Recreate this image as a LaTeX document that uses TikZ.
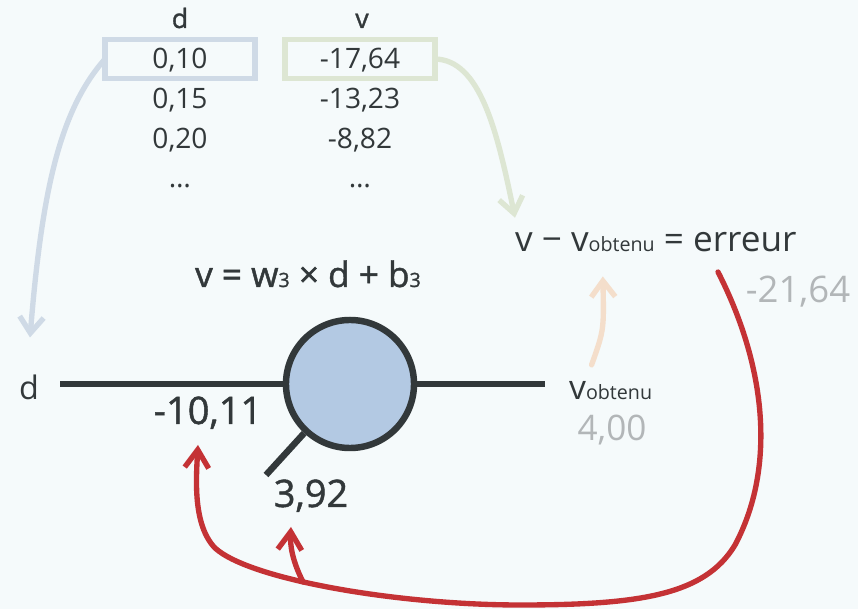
\documentclass[tikz,border=0pt]{standalone}
\usepackage{fontspec}
\setmainfont{Open Sans}
\usetikzlibrary{arrows.meta, positioning}
\definecolor{bgpaper}{RGB}{245,250,251}
\definecolor{inkdark}{RGB}{50,56,58}
\definecolor{inkgrey}{RGB}{178,182,184}
\definecolor{neuronblue}{RGB}{179,201,227}
\definecolor{boxblue}{RGB}{207,218,230}
\definecolor{boxgreen}{RGB}{221,230,211}
\definecolor{peach}{RGB}{244,222,203}
\definecolor{errred}{RGB}{196,50,53}
\newcommand{\fsz}[1]{\fontsize{#1}{#1}\selectfont}
\newcommand{\semi}{\addfontfeature{FakeBold=1.2}}
\tikzset{
  colhead/.style={anchor=base, inner sep=2pt, text=inkdark, font=\fsz{19pt}\semi},
  cell/.style={minimum width=3.75cm, minimum height=0.99cm, inner sep=0pt, outer sep=0pt,
    text height=14pt, text depth=0pt, line width=3.8pt, text=inkdark, font=\fsz{20pt}},
  neuron/.style={circle, draw=inkdark, fill=neuronblue, line width=4.6pt, minimum size=3.2cm},
  wire/.style={draw=inkdark, line width=4.6pt},
  lbl/.style={inner sep=2pt, text=inkdark, font=\fsz{24pt}},
  weight/.style={anchor=base, inner sep=2pt, text=inkdark, font=\fsz{27pt}\semi},
  gval/.style={anchor=base, inner sep=2pt, text=inkgrey, font=\fsz{25pt}},
  feedd/.style={draw=boxblue, line width=3.8pt, line cap=round, -{Straight Barb[length=4mm, width=6mm]}},
  feedv/.style={feedd, draw=boxgreen},
  feedout/.style={feedd, draw=peach},
  errback/.style={draw=errred, line width=3.8pt, line cap=round, -{Straight Barb[length=4.5mm, width=6mm]}}
}
\begin{document}
\begin{tikzpicture}[x=0.025cm, y=-0.025cm]
  % paper
  \fill[bgpaper] (0,0) rectangle (858,609);

  % samples d / v
  \node[colhead] (hd) at (180,28) {d};
  \node[colhead] (hv) at (362,28) {v};
  \node[cell, draw=boxblue] (d1) at (180,59) {0,10};
  \node[cell, below=0pt of d1] (d2) {0,15};
  \node[cell, below=0pt of d2] (d3) {0,20};
  \node[cell, below=0pt of d3] (d4) {…};
  \node[cell, draw=boxgreen] (v1) at (360,59) {-17,64};
  \node[cell, below=0pt of v1] (v2) {-13,23};
  \node[cell, below=0pt of v2] (v3) {-8,82};
  \node[cell, below=0pt of v3] (v4) {…};

  % the neuron
  \node[neuron] (n) at (350,384) {};
  \node[lbl, font=\fsz{23pt}] (din) at (29,387) {d};
  \coordinate (inl) at (60,384);
  \coordinate (outr) at (545,384);
  \coordinate (bend) at (266,475);
  \draw[wire] (inl) -- (n.west);
  \draw[wire] (n.east) -- (outr);
  \draw[wire] (n.227) -- (bend);
  \node[weight] (w) at (208,424) {-10,11};
  \node[weight] (b) at (311,507) {3,92};
  \node[weight, font=\fsz{25pt}\semi] (fml) at (308,287) {v = w{\fsz{14pt}3} × d + b{\fsz{14pt}3}};

  % output and error
  \node[lbl, anchor=base west] (vout) at (566,400) {v{\fsz{14pt}obtenu}};
  \node[gval] (vval) at (612,441) {4,00};
  \node[lbl, anchor=base west, font=\fsz{25pt}] (eq) at (512,252) {v − v{\fsz{14pt}obtenu} = erreur};
  \node[gval, font=\fsz{26pt}] (err) at (798,303) {-21,64};
  \coordinate (errtail) at (718,272);
  \coordinate (fork) at (303,582);

  % feeding the sample in
  \draw[feedd] (d1.west) .. controls (60,110) and (42,190) .. ([shift={(1,-34)}]din.north);
  \draw[feedv] (v1.east) .. controls (480,60) and (497,130) .. ([shift={(3,-12)}]eq.north west);
  \draw[feedout] ([shift={(-19,-14)}]vout.north) .. controls (604,330) .. ([shift={(-53,21)}]eq.south);

  % error sent back to the weights
  \draw[errback] (errtail) .. controls (768,370) and (775,470) .. (735,545)
    .. controls (705,595) and (640,605) .. (520,605)
    .. controls (400,605) and (250,580) .. (215,548)
    .. controls (193,525) and (196,480) .. ([shift={(-10,13)}]w.south);
  \draw[errback] (fork) .. controls (292,560) and (290,545) .. ([shift={(-20,12)}]b.south);
\end{tikzpicture}
\end{document}
